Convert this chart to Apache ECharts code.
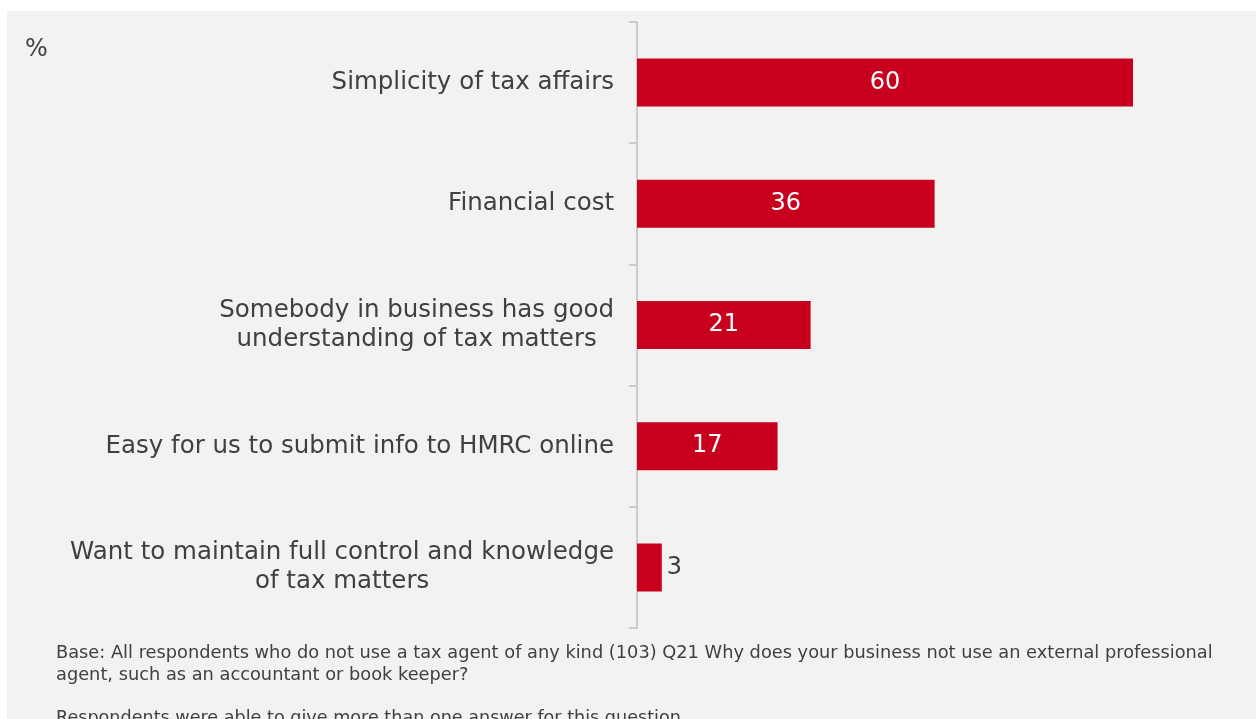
<!DOCTYPE html>
<html>
<head>
<meta charset="utf-8">
<style>
  html, body { margin: 0; padding: 0; background: #ffffff; }
  #chart { width: 1256px; height: 719px; }
</style>
<script src="https://cdn.jsdelivr.net/npm/echarts@6/dist/echarts.min.js"></script>
</head>
<body>
<div id="chart"></div>
<script>
// Reasons for not using an external tax agent (% of respondents)
const categories = [
  'Simplicity of tax affairs',
  'Financial cost',
  'Somebody in business has good\nunderstanding of tax matters',
  'Easy for us to submit info to HMRC online',
  'Want to maintain full control and knowledge\nof tax matters'
];
const values = [60, 36, 21, 17, 3];
const unitLabel = '%';
const baseNote = 'Base: All respondents who do not use a tax agent of any kind (103) Q21 Why does your business not use an external professional\nagent, such as an accountant or book keeper?';
const multiNote = 'Respondents were able to give more than one answer for this question.';

const FONT = '"DejaVu Sans", Verdana, sans-serif';
const TEXT = '#404040';
const RED = '#c8001e';

const chart = echarts.init(document.getElementById('chart'));
chart.setOption({
  backgroundColor: '#ffffff',
  animation: false,
  graphic: [
    { type: 'rect', z: -10, shape: { x: 7, y: 11, width: 1256, height: 719 }, style: { fill: '#f2f2f2' } },
    { type: 'text', left: 25, top: 38, style: { text: unitLabel, font: '24px ' + FONT, fill: TEXT } },
    { type: 'text', left: 56, top: 642, style: { text: baseNote, font: '17.8px ' + FONT, fill: TEXT, lineHeight: 22 } },
    { type: 'text', left: 56, top: 707, style: { text: multiNote, font: '17.6px ' + FONT, fill: TEXT, lineHeight: 22 } }
  ],
  grid: { left: 637, top: 22, width: 578.7, height: 606, containLabel: false },
  xAxis: {
    type: 'value', min: 0, max: 70,
    show: false
  },
  yAxis: {
    type: 'category',
    inverse: true,
    data: categories,
    axisLine: { show: true, lineStyle: { color: '#bfbfbf', width: 1.5 } },
    axisTick: { show: true, length: 8, lineStyle: { color: '#bfbfbf', width: 1.5 } },
    axisLabel: {
      margin: 23,
      formatter: v => '{c|' + v.split('\n').join('}\n{c|') + '}',
      rich: {
        c: { align: 'center', fontFamily: FONT, fontSize: 24.5, color: TEXT, lineHeight: 29 }
      }
    }
  },
  series: [{
    type: 'bar',
    data: values.map(v => ({
      value: v,
      label: v < 6 ? { position: 'right', color: TEXT, distance: 5 } : {}
    })),
    barWidth: 48,
    itemStyle: { color: RED },
    label: {
      show: true,
      position: 'inside',
      color: '#ffffff',
      fontFamily: FONT,
      fontSize: 24
    }
  }]
});
</script>
</body>
</html>
